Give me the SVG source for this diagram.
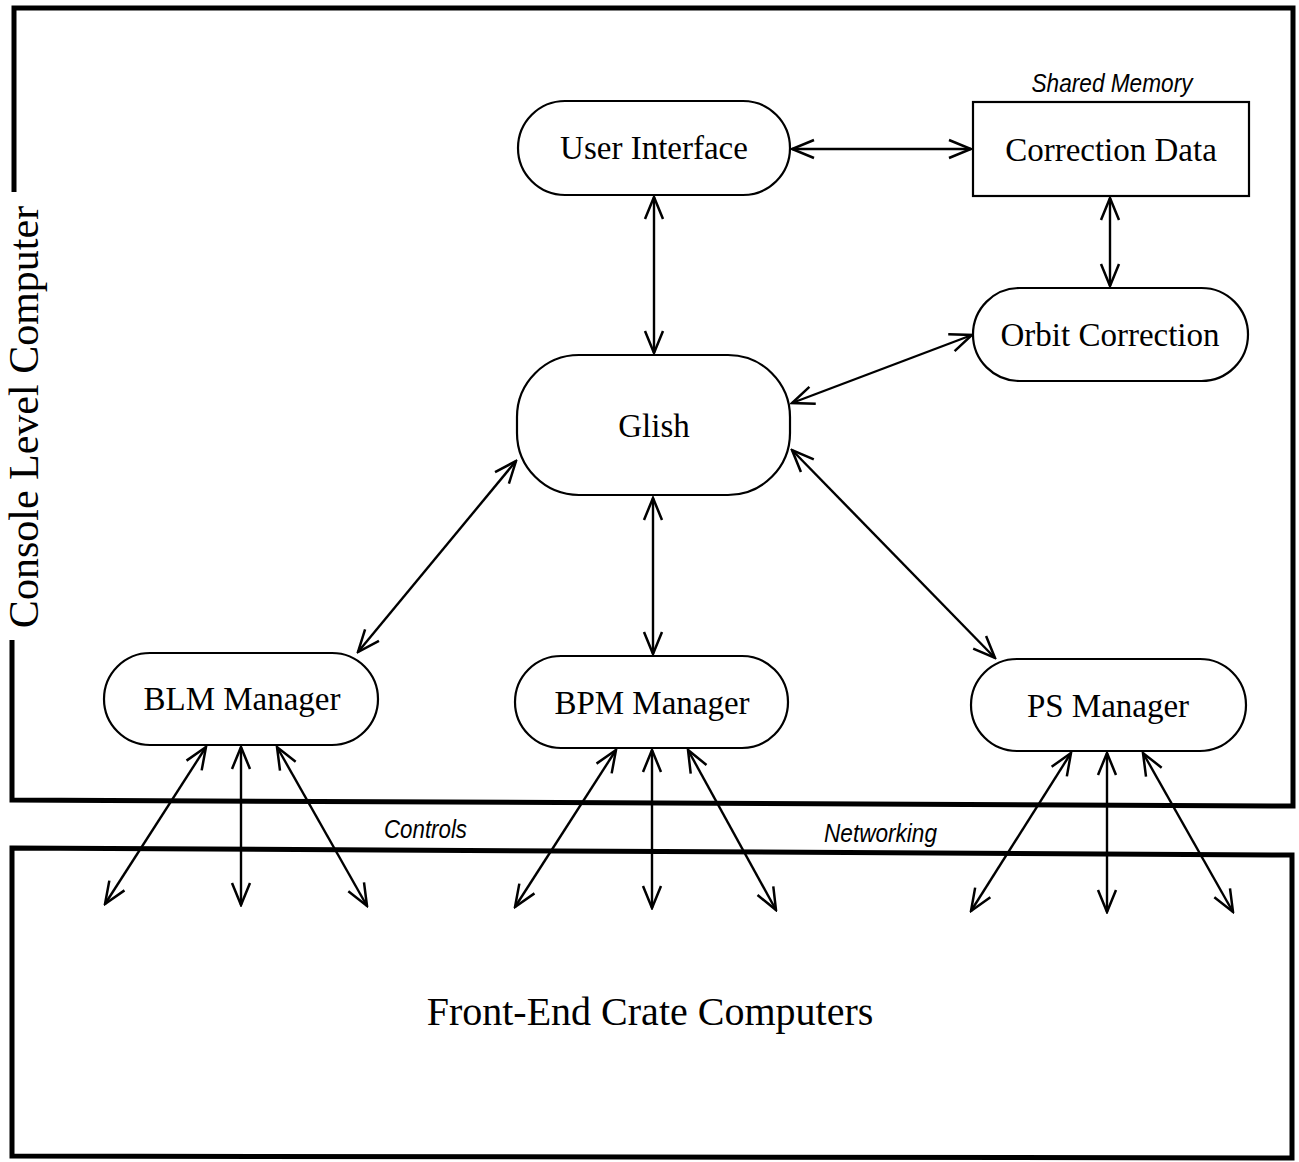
<svg xmlns="http://www.w3.org/2000/svg" width="1299" height="1162" viewBox="0 0 1299 1162">
<defs>
<marker id="ah" viewBox="-24 -12 26 24" refX="0" refY="0" markerWidth="26" markerHeight="24" markerUnits="userSpaceOnUse" orient="auto-start-reverse">
<path d="M -22,-9 L 0,0 L -22,9" fill="none" stroke="#000" stroke-width="2.5" stroke-linejoin="miter"/>
</marker>
</defs>
<style>
.frame{fill:none;stroke:#000;stroke-width:5}
.node{fill:#fff;stroke:#000;stroke-width:2.2}
.lbl{font-family:"Liberation Serif","Times New Roman",serif;font-size:33px;fill:#000;text-anchor:middle}
.it{font-family:"Liberation Sans",Arial,sans-serif;font-style:italic;font-size:26px;fill:#000}
.con line{stroke:#000;stroke-width:2.4;marker-start:url(#ah);marker-end:url(#ah)}
</style>
<rect width="1299" height="1162" fill="#fff"/>
<g id="console-frame">
<path class="frame" d="M 14,192 L 14,8 L 1293,8 L 1293,806 L 12,800 L 12,640"/>
<text transform="translate(38,417) rotate(-90)" text-anchor="middle" font-family="'Liberation Serif','Times New Roman',serif" font-size="42">Console Level Computer</text>
</g>
<g id="frontend-frame">
<path class="frame" d="M 12,848 L 1292,855 L 1292,1158 L 12,1156 Z"/>
<text x="650" y="1025" text-anchor="middle" font-family="'Liberation Serif','Times New Roman',serif" font-size="40">Front-End Crate Computers</text>
</g>
<g id="network-labels">
<text class="it" x="384" y="838" textLength="83" lengthAdjust="spacingAndGlyphs">Controls</text>
<text class="it" x="824" y="842" textLength="113" lengthAdjust="spacingAndGlyphs">Networking</text>
</g>
<g class="con" id="connectors">
<line x1="792" y1="149" x2="971" y2="149"/>
<line x1="654" y1="197" x2="654" y2="353"/>
<line x1="1110" y1="198" x2="1110" y2="286"/>
<line x1="972" y1="335" x2="792" y2="403"/>
<line x1="516" y1="461" x2="358" y2="652"/>
<line x1="653" y1="498" x2="653" y2="654"/>
<line x1="792" y1="450" x2="995" y2="658"/>
<line x1="206" y1="747" x2="105" y2="904"/>
<line x1="241" y1="747" x2="241" y2="905"/>
<line x1="277" y1="747" x2="367" y2="906"/>
<line x1="616" y1="750" x2="515" y2="907"/>
<line x1="652" y1="750" x2="652" y2="908"/>
<line x1="688" y1="750" x2="776" y2="910"/>
<line x1="1071" y1="753" x2="971" y2="911"/>
<line x1="1107" y1="753" x2="1107" y2="912"/>
<line x1="1143" y1="753" x2="1233" y2="912"/>
</g>
<g id="user-interface">
<rect class="node" x="518" y="101" width="272" height="94" rx="47"/>
<text class="lbl" x="654" y="159">User Interface</text>
</g>
<g id="correction-data">
<text class="it" x="1112" y="92" text-anchor="middle" textLength="161" lengthAdjust="spacingAndGlyphs">Shared Memory</text>
<rect class="node" x="973" y="102" width="276" height="94"/>
<text class="lbl" x="1111" y="161">Correction Data</text>
</g>
<g id="orbit-correction">
<rect class="node" x="973" y="288" width="275" height="93" rx="46.5"/>
<text class="lbl" x="1110" y="346">Orbit Correction</text>
</g>
<g id="glish">
<rect class="node" x="517" y="355" width="273" height="140" rx="62"/>
<text class="lbl" x="654" y="437">Glish</text>
</g>
<g id="blm-manager">
<rect class="node" x="104" y="653" width="274" height="92" rx="46"/>
<text class="lbl" x="242" y="710">BLM Manager</text>
</g>
<g id="bpm-manager">
<rect class="node" x="515" y="656" width="273" height="92" rx="46"/>
<text class="lbl" x="652" y="714">BPM Manager</text>
</g>
<g id="ps-manager">
<rect class="node" x="971" y="659" width="275" height="92" rx="46"/>
<text class="lbl" x="1108" y="717">PS Manager</text>
</g>
</svg>
